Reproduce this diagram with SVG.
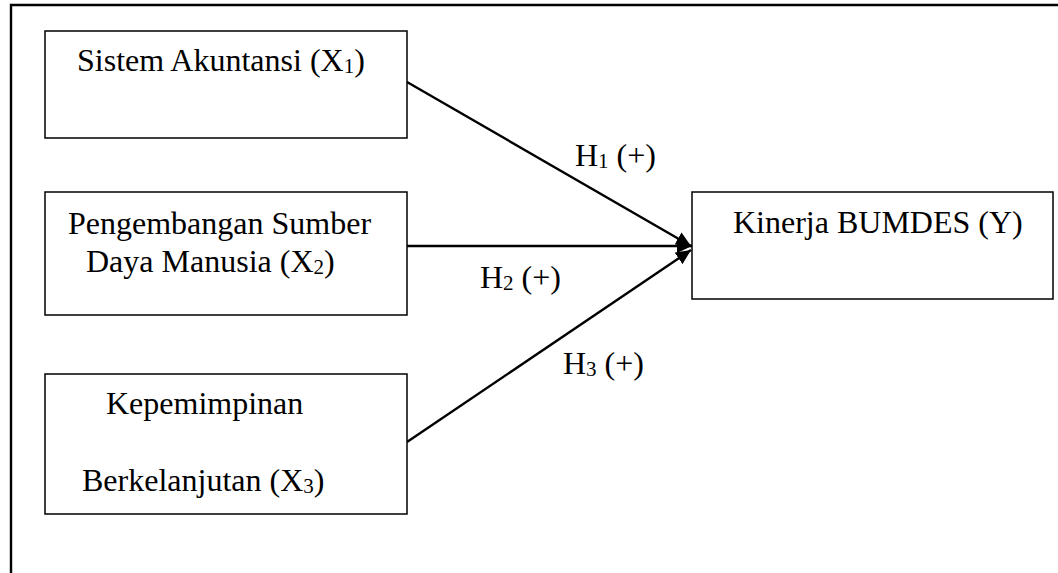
<svg xmlns="http://www.w3.org/2000/svg" width="1058" height="573" viewBox="0 0 1058 573">
<style>
text{font-family:"Liberation Serif","Times New Roman",serif;font-size:32px;fill:#000}
.sub{font-size:21px}
.box{fill:#fff;stroke:#000;stroke-width:1.5}
.conn{stroke:#000;stroke-width:2.4;fill:none}
</style>
<defs>
<marker id="ah" markerUnits="userSpaceOnUse" markerWidth="16" markerHeight="14" refX="15" refY="7" orient="auto">
<path d="M0,0 L15,7 L0,14 z" fill="#000"/>
</marker>
</defs>
<rect x="0" y="0" width="1058" height="573" fill="#fff"/>
<path d="M11,573 V5 H1058" fill="none" stroke="#000" stroke-width="2.4"/>
<g id="connectors">
<line class="conn" x1="407" y1="82" x2="691" y2="246" marker-end="url(#ah)"/>
<line class="conn" x1="407" y1="246" x2="692" y2="246" marker-end="url(#ah)"/>
<line class="conn" x1="407" y1="442" x2="691" y2="250" marker-end="url(#ah)"/>
<text x="575" y="166">H<tspan class="sub" dy="2">1</tspan><tspan dy="-2"> (+)</tspan></text>
<text x="480" y="288">H<tspan class="sub" dy="2">2</tspan><tspan dy="-2"> (+)</tspan></text>
<text x="563" y="374">H<tspan class="sub" dy="2">3</tspan><tspan dy="-2"> (+)</tspan></text>
</g>
<g id="x1">
<rect class="box" x="45" y="31" width="362" height="107"/>
<text x="77" y="71">Sistem Akuntansi (X<tspan class="sub" dy="2">1</tspan><tspan dy="-2">)</tspan></text>
</g>
<g id="x2">
<rect class="box" x="45" y="192" width="362" height="123"/>
<text x="68" y="234">Pengembangan Sumber</text>
<text x="86" y="272">Daya Manusia (X<tspan class="sub" dy="2">2</tspan><tspan dy="-2">)</tspan></text>
</g>
<g id="x3">
<rect class="box" x="45" y="374" width="362" height="140"/>
<text x="106" y="414">Kepemimpinan</text>
<text x="82" y="491">Berkelanjutan (X<tspan class="sub" dy="2">3</tspan><tspan dy="-2">)</tspan></text>
</g>
<g id="y">
<rect class="box" x="692" y="192" width="361" height="107"/>
<text x="733" y="233">Kinerja BUMDES (Y)</text>
</g>
</svg>
